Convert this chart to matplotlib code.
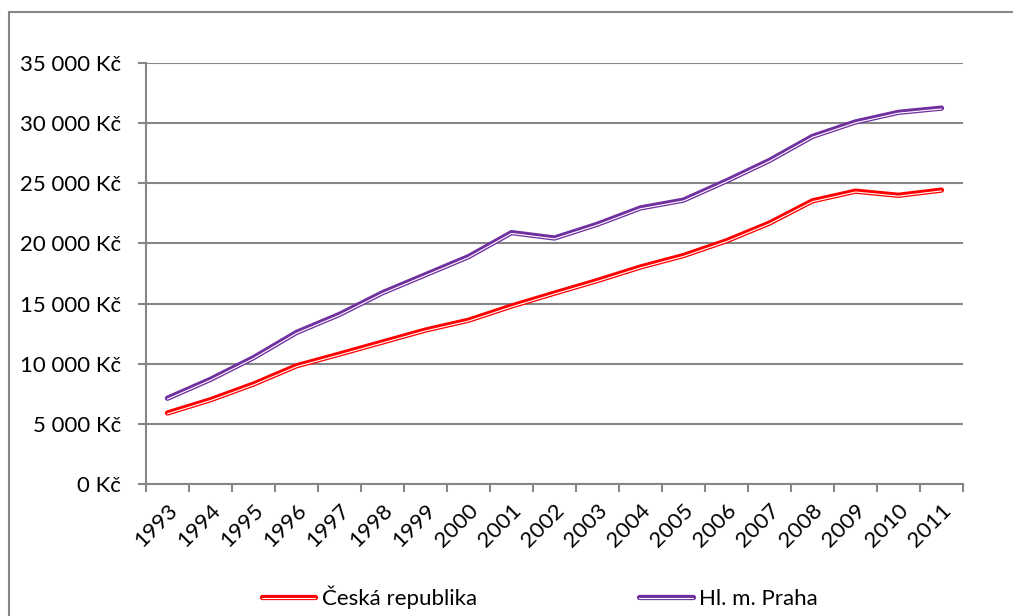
import matplotlib
matplotlib.use('Agg')
from matplotlib import pyplot as plt
from matplotlib import patheffects as pe
from matplotlib.patches import Rectangle
from matplotlib.ticker import FuncFormatter
import numpy as np

plt.rcParams['font.family'] = ['Lato', 'DejaVu Sans']

years = [str(y) for y in range(1993, 2012)]
cr = [5904, 7004, 8307, 9825, 10802, 11801, 12797, 13614, 14793, 15866,
      16917, 18041, 18992, 20219, 21694, 23542, 24344, 24002, 24436]
praha = [7130, 8700, 10500, 12600, 14100, 15900, 17400, 18900, 20900, 20450,
         21600, 22950, 23600, 25200, 26900, 28900, 30100, 30900, 31250]

grey = '#868686'

fig = plt.figure(figsize=(10.13, 6.16), dpi=100)
ax = fig.add_axes([0.1441, 0.2143, 0.8065, 0.6834])

# chart area border (cut off at the right and bottom in the original)
fig.add_artist(Rectangle((9 / 1013, -0.1), 1.2, 1.1 - 11.5 / 616,
                         transform=fig.transFigure, fill=False,
                         edgecolor=grey, lw=1.5))

x = np.arange(len(years))


def double_line(vals, color, label):
    ax.plot(x, vals, color=color, lw=3.8, solid_capstyle='round',
            solid_joinstyle='round', label=label, zorder=3,
            path_effects=[pe.Normal(),
                          pe.Stroke(offset=(0, -0.6), linewidth=0.8,
                                    foreground='white')])


double_line(cr, '#FF0000', 'Česká republika')
double_line(praha, '#7030A0', 'Hl. m. Praha')

ax.set_xlim(-0.5, len(years) - 0.5)
ax.set_ylim(0, 35000)
ax.set_yticks(np.arange(0, 35001, 5000))
ax.yaxis.set_major_formatter(FuncFormatter(
    lambda v, p: '{:,.0f} Kč'.format(v).replace(',', ' ')))
ax.grid(axis='y', color=grey, lw=1.5)
ax.set_axisbelow(True)

ax.set_xticks(np.arange(-0.5, len(years), 1))
ax.set_xticklabels([])
ax.set_xticks(x, minor=True)
ax.set_xticklabels(years, minor=True, rotation=45, ha='right', va='top',
                   rotation_mode='anchor', fontsize=16)
ax.tick_params(axis='x', which='minor', length=0, pad=12)
ax.tick_params(axis='x', which='major', length=6, width=1.5, color=grey)
ax.tick_params(axis='y', length=6, width=1.5, color=grey, pad=12,
               labelsize=16)

for s in ['top', 'right']:
    ax.spines[s].set_visible(False)
for s in ['left', 'bottom']:
    ax.spines[s].set_color(grey)
    ax.spines[s].set_linewidth(1.5)

fig.legend(loc='center', bbox_to_anchor=(540 / 1013, 19 / 616), ncol=2,
           frameon=False, fontsize=16, handlelength=2.4, handletextpad=0.3,
           columnspacing=7.3)

fig.savefig('out.png', dpi=100)
